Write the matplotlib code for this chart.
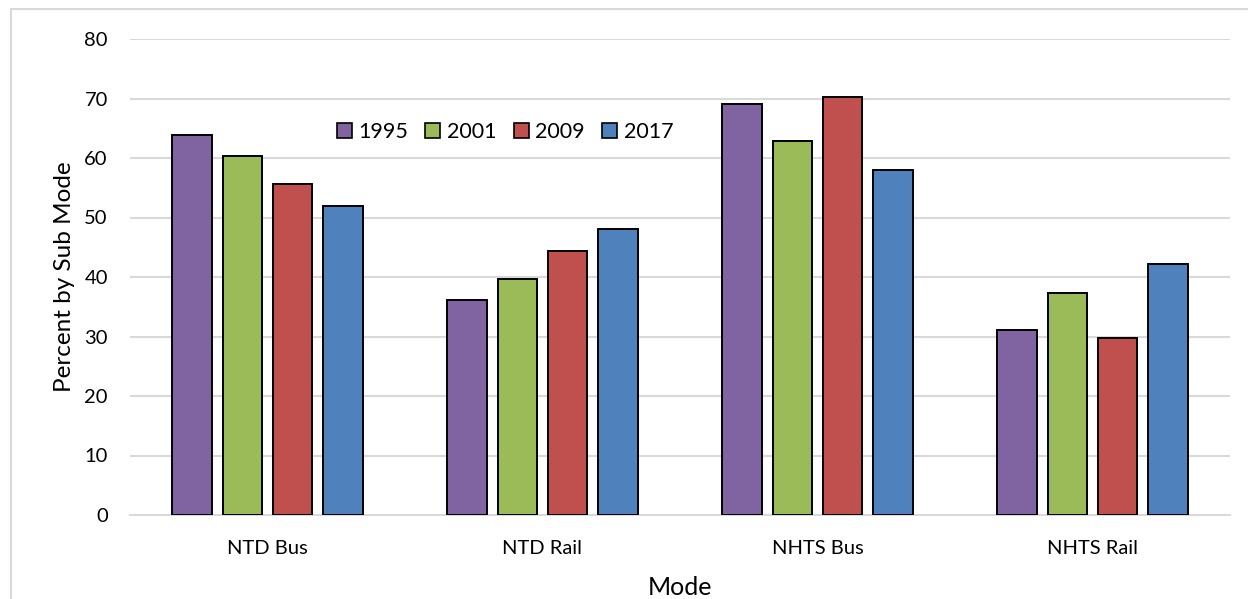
import numpy as np
import matplotlib
matplotlib.use("Agg")
import matplotlib.pyplot as plt
from matplotlib.patches import Rectangle, Patch

plt.rcParams['font.family'] = ['Lato', 'DejaVu Sans']

modes = ["NTD Bus", "NTD Rail", "NHTS Bus", "NHTS Rail"]
years = ["1995", "2001", "2009", "2017"]
colors = ["#8064A2", "#9BBB59", "#C0504D", "#4F81BD"]

v1995 = [63.9, 36.1, 69.0, 31.1]
v2001 = [60.4, 39.6, 62.8, 37.3]
v2009 = [55.6, 44.4, 70.3, 29.7]
v2017 = [51.9, 48.1, 57.9, 42.2]
series = [v1995, v2001, v2009, v2017]

fig = plt.figure(figsize=(12.48, 5.99), dpi=100)
ax = fig.add_axes([130/1248, 1 - 515/599, 1100/1248, 476/599])

x = np.arange(len(modes))
w = 0.145
step = 0.182
for i, (vals, c) in enumerate(zip(series, colors)):
    off = (i - 1.5) * step
    ax.bar(x + off, vals, width=w, color=c, edgecolor="black", linewidth=1.4,
           zorder=3, label=years[i])

ax.set_xlim(-0.5, 3.5)
ax.set_ylim(0, 80)
ax.set_yticks(range(0, 81, 10))
ax.set_xticks(x)
ax.set_xticklabels(modes)
ax.grid(axis="y", color="#d9d9d9", linewidth=1.5, zorder=0)
for s in ["top", "right", "left"]:
    ax.spines[s].set_visible(False)
ax.spines["bottom"].set_color("#d9d9d9")
ax.spines["bottom"].set_linewidth(1.5)
ax.tick_params(axis="both", length=0, labelsize=14.5, colors="black")
ax.tick_params(axis="y", pad=16)
ax.tick_params(axis="x", pad=18)

ax.set_ylabel("Percent by Sub Mode", fontsize=17.5, labelpad=7)
ax.set_xlabel("Mode", fontsize=18, labelpad=14)

handles = [Patch(facecolor=c, edgecolor="black", linewidth=1.2) for c in colors]
ax.legend(handles, years, loc="center", bbox_to_anchor=(375/1100, (515-132)/476),
          ncol=4, frameon=False, fontsize=15.5, handlelength=0.7, handleheight=0.7,
          handletextpad=0.3, columnspacing=0.8)

fig.patches.append(Rectangle((11/1248, -0.1), 1.2, 1 - 8.5/599 + 0.1,
                             transform=fig.transFigure, fill=False,
                             edgecolor="#d9d9d9", linewidth=1.5))

fig.savefig("out.png", dpi=100)
